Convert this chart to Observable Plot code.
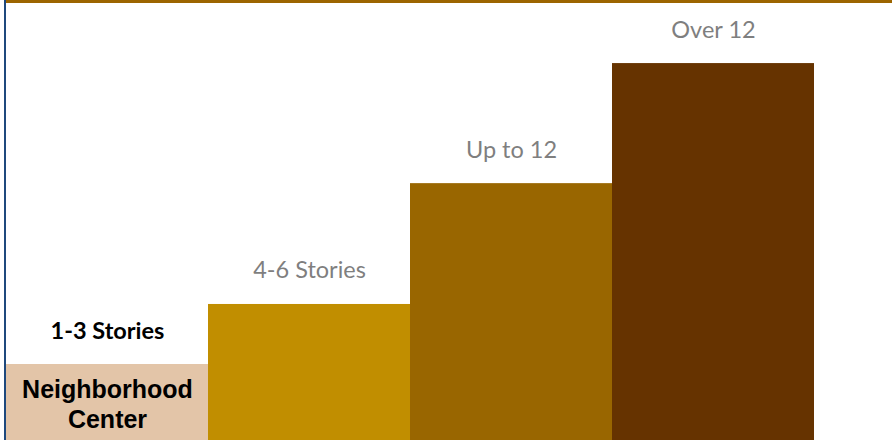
<!DOCTYPE html>
<html>
<head>
<meta charset="utf-8">
<script src="https://cdn.jsdelivr.net/npm/d3@7"></script>
<script src="https://cdn.jsdelivr.net/npm/@observablehq/plot@0.6"></script>
<style>
  html, body { margin: 0; padding: 0; background: #fff; }
  #wrap { position: relative; width: 892px; height: 440px; overflow: hidden; }
  #wrap svg { display: block; }
  .edge-left { position: absolute; left: 4px; top: 0; width: 2px; height: 440px; background: #1F497D; }
  .edge-top { position: absolute; left: 6px; top: 0; width: 886px; height: 3px; background: #9C6500; }
</style>
</head>
<body>
<div id="wrap"></div>
<script>
// Data
const categories = ["1-3 Stories", "4-6 Stories", "Up to 12", "Over 12"];
const heights = [1, 1.79, 3.38, 4.96];           // relative building height
const colors = ["#E3C5A8", "#C18E00", "#996600", "#663300"];
const innerLabels = ["Neighborhood\nCenter", "", "", ""];

const data = categories.map((c, i) => ({cat: c, value: heights[i], inner: innerLabels[i]}));

const chart = Plot.plot({
  width: 892,
  height: 440,
  marginLeft: 6,
  marginRight: 78,
  marginTop: 0,
  marginBottom: 0,
  x: {domain: categories, padding: 0, axis: null},
  y: {domain: [0, 5.79], axis: null},
  color: {domain: categories, range: colors},
  marks: [
    Plot.barY(data, {x: "cat", y: "value", fill: "cat", insetLeft: 0, insetRight: 0}),
    // first label: bold black
    Plot.text(data.slice(0, 1), {
      x: "cat", y: "value", text: "cat",
      lineAnchor: "bottom", dy: -26,
      fill: "#000", fontWeight: "bold", fontSize: 23.5,
      fontFamily: "Lato, 'Open Sans', sans-serif"
    }),
    // other labels: gray
    Plot.text(data.slice(1), {
      x: "cat", y: "value", text: "cat",
      lineAnchor: "bottom", dy: -26,
      fill: "#7F7F7F", fontSize: 23.5,
      fontFamily: "Lato, 'Open Sans', sans-serif"
    }),
    // label inside first bar
    Plot.text(data.filter(d => d.inner), {
      x: "cat", y: 0, text: "inner",
      lineAnchor: "bottom", dy: -13, lineHeight: 1.2,
      fill: "#000", fontWeight: "bold", fontSize: 25,
      fontFamily: "'Liberation Sans', Arial, sans-serif"
    })
  ]
});

const wrap = document.getElementById("wrap");
wrap.appendChild(chart);
const l = document.createElement("div"); l.className = "edge-left"; wrap.appendChild(l);
const t = document.createElement("div"); t.className = "edge-top"; wrap.appendChild(t);
</script>
</body>
</html>
